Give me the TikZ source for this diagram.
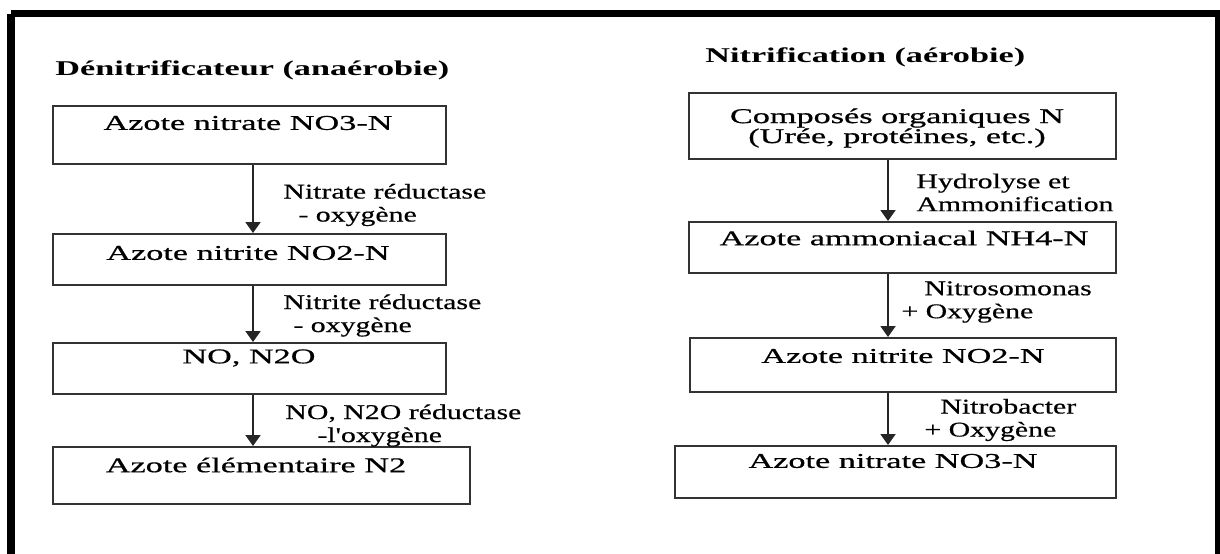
\documentclass[tikz,border=0pt]{standalone}
\usepackage{fontspec}
\setmainfont{Liberation Serif}
\newfontfamily\lblfont[FakeStretch=1.42,FakeBold=0.5]{Liberation Serif}
\newfontfamily\boxfont[FakeStretch=1.63,FakeBold=0.7]{Liberation Serif}
\newfontfamily\ttlfont[FakeStretch=1.63]{Liberation Serif}
\usetikzlibrary{arrows.meta}
\tikzset{
  box/.style={draw=black!80, line width=1.1pt, anchor=north west, inner sep=0pt},
  boxtext/.style={font=\boxfont\fontsize{10.5}{10}\selectfont, inner sep=0pt, align=center},
  lbl/.style={font=\lblfont\fontsize{10.5}{11.5}\selectfont, inner sep=0pt, anchor=west, align=left},
  ttl/.style={font=\ttlfont\bfseries\fontsize{10.5}{12}\selectfont, inner sep=0pt, anchor=west},
  arr/.style={line width=1pt, black!85, -{Triangle[width=7.5pt,length=5.5pt]}}
}
\begin{document}
\begin{tikzpicture}[x=0.5pt,y=-0.5pt]
\useasboundingbox (0,0) rectangle (1220,553);
\clip (0,0) rectangle (1220,553);
% frame
\draw[line width=3.75pt] (11,13.5) -- (1219,13.5) -- (1219,620);
\draw[line width=4pt] (11,13.5) -- (11,620);

% left column
\node[ttl] (t1) at (55,70) {Dénitrificateur (anaérobie)};
\node[box, minimum width=196.5pt, minimum height=29pt] (b1) at (52,105) {};
\node[box, minimum width=196.5pt, minimum height=25.5pt] (b2) at (52,233) {};
\node[box, minimum width=196.5pt, minimum height=25.5pt] (b3) at (52,342) {};
\node[box, minimum width=208.5pt, minimum height=28.5pt] (b4) at (52,446) {};
\node[boxtext] (x1) at (248,123) {Azote nitrate NO3-N};
\node[boxtext] (x2) at (248,253) {Azote nitrite NO2-N};
\node[boxtext] (x3) at (249,358) {NO, N2O};
\node[boxtext] (x4) at (256,465) {Azote élémentaire N2};
\coordinate (lx) at (253,0);
\draw[arr] (lx |- b1.south) -- (lx |- b2.north);
\draw[arr] (lx |- b2.south) -- (lx |- b3.north);
\draw[arr] (lx |- b3.south) -- (lx |- b4.north);
\node[lbl] (l1) at (283,205) {Nitrate réductase\\\hspace*{7.5pt}- oxygène};
\node[lbl] (l2) at (283,315.5) {Nitrite réductase\\\hspace*{5pt}- oxygène};
\node[lbl] (l3) at (285,425.5) {NO, N2O réductase\\\hspace*{16pt}-l'oxygène};

% right column
\node[ttl] (t2) at (705,57) {Nitrification (aérobie)};
\node[box, minimum width=213.5pt, minimum height=33pt] (c1) at (688,92) {};
\node[box, minimum width=213.5pt, minimum height=25.5pt] (c2) at (688,221) {};
\node[box, minimum width=213pt, minimum height=27pt] (c3) at (689,337) {};
\node[box, minimum width=220.5pt, minimum height=26pt] (c4) at (674,445) {};
\node[boxtext] (y1) at (897,128) {Composés organiques N\\(Urée, protéines, etc.)};
\node[boxtext] (y2) at (904,238) {Azote ammoniacal NH4-N};
\node[boxtext] (y3) at (903,356) {Azote nitrite NO2-N};
\node[boxtext] (y4) at (893,461) {Azote nitrate NO3-N};
\coordinate (rx) at (888,0);
\draw[arr] (rx |- c1.south) -- (rx |- c2.north);
\draw[arr] (rx |- c2.south) -- (rx |- c3.north);
\draw[arr] (rx |- c3.south) -- (rx |- c4.north);
\node[lbl] (m1) at (916,192.5) {Hydrolyse et\\Ammonification};
\node[lbl] (m2) at (901,302) {\hspace*{11.5pt}Nitrosomonas\\+ Oxygène};
\node[lbl] (m3) at (924,420) {\hspace*{8pt}Nitrobacter\\+ Oxygène};
\end{tikzpicture}
\end{document}
